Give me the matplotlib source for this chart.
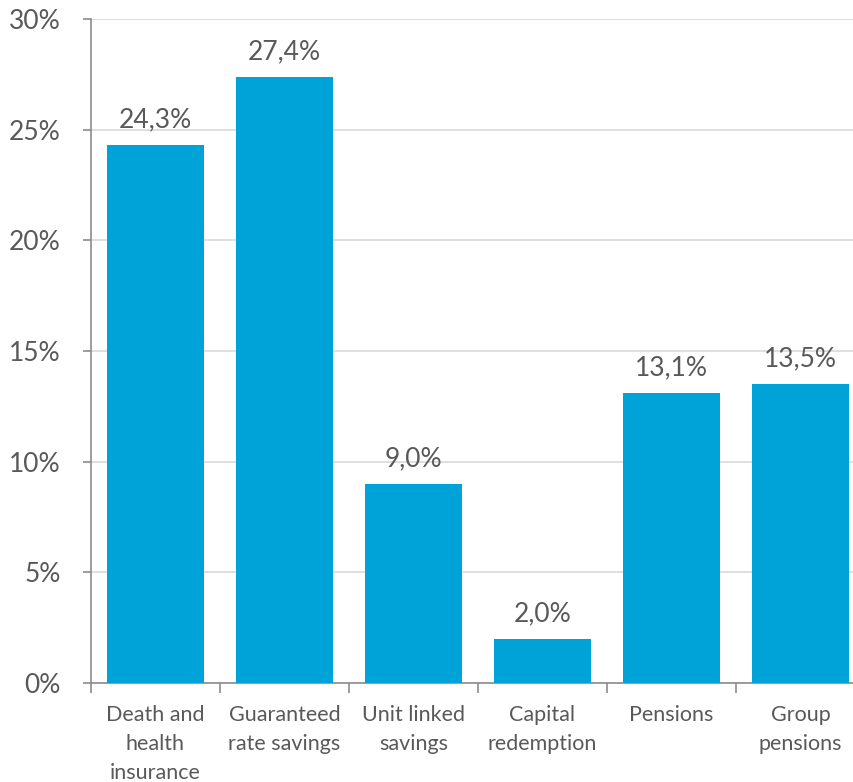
import numpy as np
import matplotlib
matplotlib.use("Agg")
import matplotlib.pyplot as plt
from matplotlib.ticker import FixedLocator, FuncFormatter

plt.rcParams['font.family'] = ['Lato', 'DejaVu Sans']

categories = ["Death and\nhealth\ninsurance", "Guaranteed\nrate savings",
              "Unit linked\nsavings", "Capital\nredemption", "Pensions",
              "Group\npensions"]
shares = [24.3, 27.4, 9.0, 2.0, 13.1, 13.5]
value_labels = ["24,3%", "27,4%", "9,0%", "2,0%", "13,1%", "13,5%"]
y_ticks = [0, 5, 10, 15, 20, 25, 30]

bar_color = "#00A3D7"
text_color = "#595959"
axis_color = "#8C8C8C"
grid_color = "#D9D9D9"

fig = plt.figure(figsize=(8.54, 7.82), dpi=100)
# axes runs a little past the right edge, as in the original export
ax = fig.add_axes([91 / 854, 99 / 782, 774 / 854, 664 / 782])

x = np.arange(len(categories))
bars = ax.bar(x, shares, width=0.745, color=bar_color, zorder=3)

for rect, lab in zip(bars, value_labels):
    ax.annotate(lab, (rect.get_x() + rect.get_width() / 2, rect.get_height()),
                xytext=(0, 9), textcoords="offset points",
                ha="center", va="bottom", fontsize=19, color=text_color)

ax.set_xlim(-0.5, len(categories) - 0.5)
ax.set_ylim(0, 30)

ax.yaxis.set_major_locator(FixedLocator(y_ticks))
ax.yaxis.set_major_formatter(FuncFormatter(lambda v, _: f"{v:.0f}%"))
ax.tick_params(axis="y", length=6, width=1.2, color=axis_color,
               labelsize=19, labelcolor=text_color, pad=16)
ax.grid(axis="y", color=grid_color, linewidth=1.2, zorder=0)

# category labels on major ticks, boundary marks on minor ticks
ax.set_xticks(x)
ax.set_xticklabels(categories, fontsize=15.5, color=text_color, linespacing=1.56)
ax.tick_params(axis="x", which="major", length=0, pad=16)
ax.xaxis.set_minor_locator(FixedLocator(np.arange(len(categories) + 1) - 0.5))
ax.tick_params(axis="x", which="minor", length=7, width=1.2, color=axis_color)

for side in ("top", "right"):
    ax.spines[side].set_visible(False)
for side in ("left", "bottom"):
    ax.spines[side].set_color(axis_color)
    ax.spines[side].set_linewidth(1.2)

fig.savefig("out.png", dpi=100)
